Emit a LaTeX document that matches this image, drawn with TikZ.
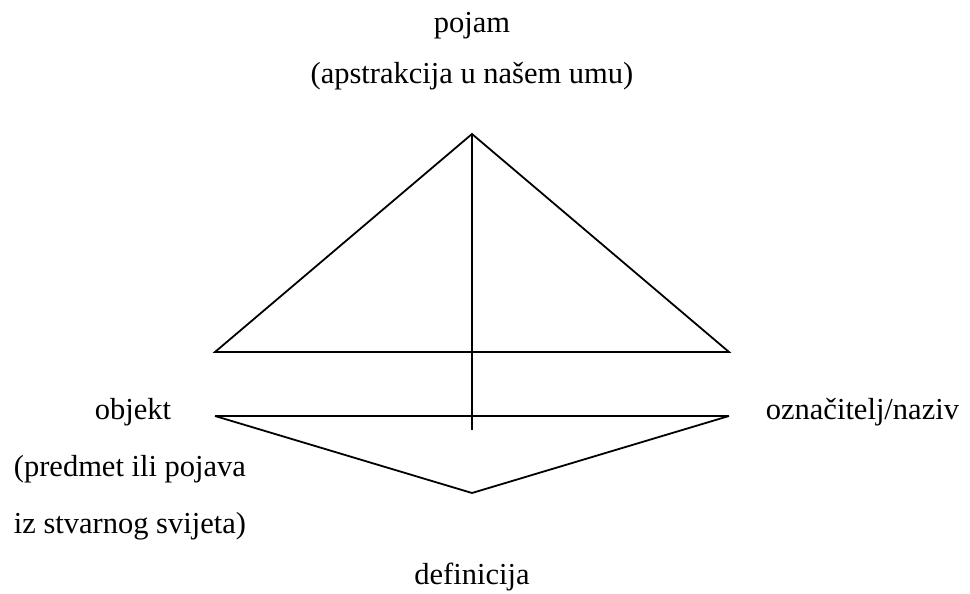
\documentclass[tikz,border=0pt]{standalone}
\usepackage{fontspec}
\setmainfont{Liberation Serif}
\usepackage{tikz}

\begin{document}
\begin{tikzpicture}[x=1pt,y=-1pt,line width=1.8pt,
  lbl/.style={inner sep=0pt,font=\fontsize{30.5}{36}\selectfont}]
\useasboundingbox (0,0) rectangle (970,594);
%% vrhovi trokuta (x , y)
\coordinate (top) at (472,134);
\coordinate (bl) at (215,352);
\coordinate (br) at (729,352);
%% donja crta i donji vrh
\coordinate (ll) at (215,416);
\coordinate (lr) at (729,416);
\coordinate (stem) at (472,430);
\coordinate (bot) at (472,493);

%% trokut + okomica
\draw (bl) -- (top) -- (br) -- cycle;
\draw (top) -- (stem);
%% donji dio
\draw (ll) -- (lr);
\draw (ll) -- (bot) -- (lr);

%% tekstovi %%%%%%%%%%%%%%%%%%%%%%%%%%%%%%%%%%
\node[lbl,anchor=mid] (pojam) at (472,30) {pojam};
\node[lbl,anchor=mid] (pojamtxt) at (472,81) {(apstrakcija u našem umu)};
\node[lbl,anchor=mid] (objekt) at (133,417) {objekt};
\node[lbl,anchor=mid west] (objtxt1) at (13,474) {(predmet ili pojava};
\node[lbl,anchor=mid west] (objtxt2) at (13,531) {iz stvarnog svijeta)};
\node[lbl,anchor=mid west] (naziv) at (765,417) {označitelj/naziv};
\node[lbl,anchor=mid] (definicija) at (472,582) {definicija};
%%%%%%%%%%%%%%%%%%%%%%%%%%%%%%%%%%%%%%%%%%%%%%
\end{tikzpicture}
\end{document}
